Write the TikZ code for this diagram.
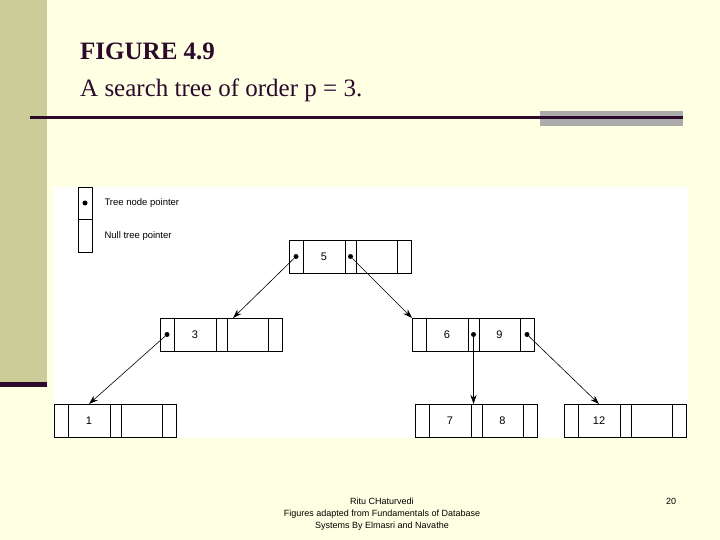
\documentclass[tikz,border=0pt]{standalone}
\usepackage{fontspec}
\setmainfont{Liberation Serif}
\setsansfont{Liberation Sans}
\usetikzlibrary{positioning,arrows.meta,calc}
\definecolor{slidebg}{HTML}{FFFFE3}
\definecolor{sidebar}{HTML}{CCCC99}
\definecolor{titlecol}{HTML}{2B0A2B}

\tikzset{
  cell/.style={draw, line width=0.8pt, minimum height=33pt, inner sep=0pt, outer sep=0pt,
    font=\sffamily\fontsize{11}{13}\selectfont},
  ptr/.style={cell, minimum width=14pt},
  key/.style={cell, minimum width=42pt},
  dot/.style={circle, fill=black, inner sep=0pt, minimum size=5pt},
  link/.style={-{Stealth[length=9pt,width=6pt]}, line width=0.6pt}
}

% one tree node: pointer, key, pointer, key, pointer
\newcommand{\treenode}[5]{%
  \node[ptr, anchor=north west] (#1-p1) at (#2,#3) {};
  \node[key, right=0pt of #1-p1] (#1-k1) {#4};
  \node[ptr, minimum width=11pt, right=0pt of #1-k1] (#1-p2) {};
  \node[key, minimum width=41pt, right=0pt of #1-p2] (#1-k2) {#5};
  \node[ptr, right=0pt of #1-k2] (#1-p3) {};
}

\begin{document}
\begin{tikzpicture}[x=1pt, y=-1pt]
  \useasboundingbox (0,0) rectangle (720,540);
  \fill[slidebg] (0,0) rectangle (720,540);
  \fill[sidebar] (0,0) rectangle (47,382);
  \fill[titlecol] (0,382) rectangle (47,387);

  % title
  \node[anchor=base west, inner sep=0pt, text=titlecol, font=\fontsize{25}{30}\selectfont\bfseries] (title) at (80,60) {FIGURE 4.9};
  \node[anchor=base west, inner sep=0pt, text=titlecol, font=\fontsize{25}{30}\selectfont] (subtitle) at (80,97) {A search tree of order p = 3.};
  \fill[black!33] (540,111) rectangle (683,126);
  \fill[titlecol] (30,116) rectangle (683,119);

  % figure panel
  \fill[white] (53,187) rectangle (688,438);

  % legend
  \node[ptr, minimum height=32pt, anchor=north west] (legfull) at (78,187) {};
  \node[ptr, minimum height=33pt, below=0pt of legfull] (legnull) {};
  \node[dot] at (legfull.center) {};
  \node[anchor=west, font=\sffamily\fontsize{9.5}{11}\selectfont] (legfulltxt) at (101,203) {Tree node pointer};
  \node[anchor=west, font=\sffamily\fontsize{9.5}{11}\selectfont] (legnulltxt) at (101,236) {Null tree pointer};

  % nodes
  \treenode{root}{289}{240}{5}{}
  \treenode{b3}{160}{318}{3}{}
  \treenode{b69}{412}{318}{6}{9}
  \treenode{b1}{54}{404}{1}{}
  \treenode{b78}{415}{404}{7}{8}
  \treenode{b12}{564}{404}{12}{}

  % pointers
  \foreach \p in {root-p1, root-p2, b3-p1, b69-p2, b69-p3}
    \node[dot] (\p-dot) at (\p.center) {};

  \draw[link] (root-p1-dot) -- ($(b3-k2.north west)+(6,0)$);
  \draw[link] (root-p2-dot) -- (b69-p1.north west);
  \draw[link] (b3-p1-dot) -- (b1-k1.north);
  \draw[link] (b69-p2-dot) -- (b69-p2-dot |- b78-p2.north);
  \draw[link] (b69-p3-dot) -- (b12-k1.north);

  % footer
  \node[align=center, font=\sffamily\fontsize{9}{12}\selectfont] (footer) at (382,514)
    {Ritu CHaturvedi\\Figures adapted from Fundamentals of Database\\Systems By Elmasri and Navathe};
  \node[font=\sffamily\fontsize{9}{10}\selectfont] (pagenum) at (671,501) {20};
\end{tikzpicture}
\end{document}
